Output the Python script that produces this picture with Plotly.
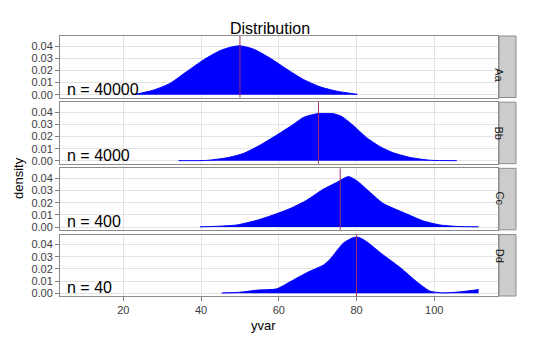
import plotly.graph_objects as go

groups = ["Aa", "Bb", "Cc", "Dd"]
n_labels = ["n = 40000", "n = 4000", "n = 400", "n = 40"]
means = [50.0, 70.2, 75.8, 80.0]

aa_x = [23, 27.7, 32, 36.3, 40.6, 44.9, 47.5, 50, 53.5, 57.8, 62.1, 66.3, 70.6, 74.9, 80.2]
aa_y = [0.0003, 0.0037, 0.0093, 0.019, 0.0286, 0.0363, 0.039, 0.0402, 0.0375, 0.030, 0.0209, 0.0126, 0.0065, 0.0029, 0.0003]

bb_x = [34.2, 41.5, 46.6, 50.9, 55.2, 59.5, 63.8, 66.3, 69.8, 72, 74.1, 76.2, 79.2, 82.6, 86.1, 89.5, 93.8, 99, 105.8]
bb_y = [0.0002, 0.0004, 0.0025, 0.0061, 0.013, 0.0213, 0.0301, 0.0357, 0.0388, 0.039, 0.0388, 0.0365, 0.029, 0.0191, 0.0116, 0.0066, 0.0028, 0.0005, 0.0002]

cc_x = [39.7, 44, 49.2, 54.3, 58.6, 62.9, 67.2, 71.5, 74.9, 77.9, 80.1, 83.5, 86.9, 92.1, 97.2, 101.5, 105.8, 111.4]
cc_y = [0.0002, 0.0006, 0.0017, 0.0055, 0.010, 0.0152, 0.0221, 0.0312, 0.0367, 0.0415, 0.038, 0.0285, 0.0193, 0.0119, 0.005, 0.0017, 0.0005, 0.0002]

dd_x = [45.3, 50, 54.3, 59.5, 62.9, 67.2, 71.5, 73.2, 76.6, 79.2, 80.5, 82.6, 86.9, 91.2, 95.5, 98.9, 102.4, 106.7, 111.4]
dd_y = [0.0002, 0.0008, 0.0025, 0.0036, 0.0094, 0.0169, 0.0232, 0.028, 0.0412, 0.0458, 0.046, 0.0424, 0.0314, 0.0212, 0.0094, 0.0017, 0.0003, 0.0011, 0.003]

xs = [aa_x, bb_x, cc_x, dd_x]
ys = [aa_y, bb_y, cc_y, dd_y]

x_ticks = [20, 40, 60, 80, 100]
y_ticks = [0.00, 0.01, 0.02, 0.03, 0.04]

FONT = "Liberation Sans, Arial, sans-serif"
H = 260.0
panel_h = 61.5
gap = (H - 4 * panel_h) / 3

fig = go.Figure()
layout = dict(
    width=540, height=345,
    margin=dict(l=60, r=42, t=36, b=49),
    paper_bgcolor="white", plot_bgcolor="white",
    showlegend=False,
    font=dict(family=FONT, color="#333333"),
)
shapes = []
annotations = []
for i in range(4):
    top = H - i * (panel_h + gap)
    bot = top - panel_h
    dom = [bot / H, top / H]
    xa = "xaxis" if i == 0 else f"xaxis{i+1}"
    ya = "yaxis" if i == 0 else f"yaxis{i+1}"
    xr = "x" if i == 0 else f"x{i+1}"
    yr = "y" if i == 0 else f"y{i+1}"
    last = i == 3
    layout[xa] = dict(
        domain=[0, 1], anchor=yr, range=[3.7, 116.4],
        tickvals=x_ticks, ticktext=[str(v) for v in x_ticks],
        showticklabels=last, ticks="outside" if last else "",
        ticklen=4, tickcolor="#7f7f7f",
        tickfont=dict(size=11, color="#3c3c3c", family=FONT),
        showgrid=True, gridcolor="#e3e3e3", gridwidth=1,
        showline=True, mirror=True, linecolor="#8c8c8c", linewidth=1,
        zeroline=False,
    )
    if i > 0:
        layout[xa]["matches"] = "x"
    layout[ya] = dict(
        domain=dom, anchor=xr, range=[-0.0023, 0.0483],
        tickvals=y_ticks, ticktext=[f"{v:.2f}" for v in y_ticks],
        ticks="outside", ticklen=4, tickcolor="#7f7f7f",
        tickfont=dict(size=11, color="#3c3c3c", family=FONT),
        showgrid=True, gridcolor="#e3e3e3", gridwidth=1,
        showline=True, mirror=True, linecolor="#8c8c8c", linewidth=1,
        zeroline=False,
    )
    fig.add_trace(go.Scatter(
        x=xs[i], y=ys[i], xaxis=xr, yaxis=yr, mode="lines",
        line=dict(color="#0000ff", width=1, shape="spline", smoothing=0.6),
        fill="tozeroy", fillcolor="#0000ff", hoverinfo="skip",
    ))
    shapes.append(dict(type="line", xref=xr, yref=f"{yr} domain",
                       x0=means[i], x1=means[i], y0=0, y1=1,
                       line=dict(color="#9a2f6a", width=1)))
    shapes.append(dict(type="rect", xref="paper", yref="paper",
                       x0=(499 - 60) / 438, x1=(516 - 60) / 438,
                       y0=dom[0], y1=dom[1],
                       fillcolor="#cccccc", line=dict(color="#8c8c8c", width=1)))
    annotations.append(dict(text=groups[i], xref="paper", yref="paper",
                            x=(507.5 - 60) / 438, y=(dom[0] + dom[1]) / 2,
                            showarrow=False, textangle=90,
                            font=dict(size=11, color="#1a1a1a", family=FONT)))
    annotations.append(dict(text=n_labels[i], xref=xr, yref=yr,
                            x=5.0, y=0.0045, xanchor="left", yanchor="middle",
                            showarrow=False,
                            font=dict(size=16, color="black", family=FONT)))

annotations.append(dict(text="Distribution", xref="paper", yref="paper",
                        x=(270 - 60) / 438, y=(296 - 28) / H,
                        xanchor="center", yanchor="middle", showarrow=False,
                        font=dict(size=16, color="black", family=FONT)))
annotations.append(dict(text="density", xref="paper", yref="paper",
                        x=(18 - 60) / 438, y=(296 - 178) / H,
                        xanchor="center", yanchor="middle", showarrow=False,
                        textangle=-90,
                        font=dict(size=13, color="black", family=FONT)))
annotations.append(dict(text="yvar", xref="paper", yref="paper",
                        x=(263 - 60) / 438, y=(296 - 325) / H,
                        xanchor="center", yanchor="middle", showarrow=False,
                        font=dict(size=13, color="black", family=FONT)))

layout["shapes"] = shapes
layout["annotations"] = annotations
fig.update_layout(**layout)
fig.write_html("out.html")
